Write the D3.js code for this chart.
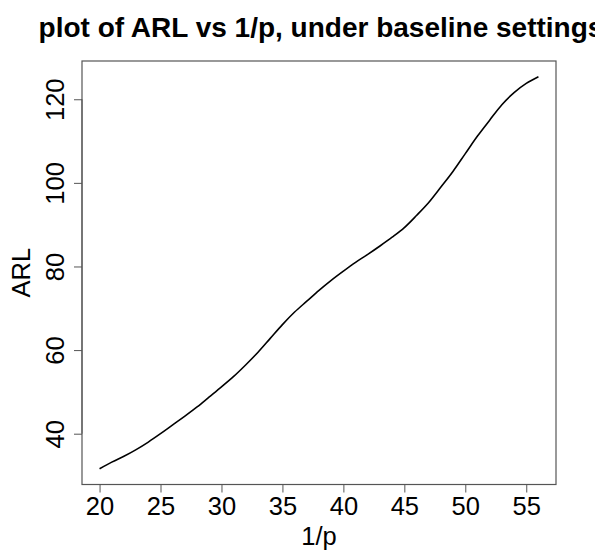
<!DOCTYPE html>
<html>
<head>
<meta charset="utf-8">
<script src="https://cdn.jsdelivr.net/npm/d3@7"></script>
<style>
  html, body { margin: 0; padding: 0; background: #fff; }
  svg { display: block; font-family: "Liberation Sans", Arial, sans-serif; }
</style>
</head>
<body>
<svg id="chart" width="595" height="551"></svg>
<script>
// ARL as a function of 1/p under the baseline settings
const invP = [20, 21, 22, 23, 24, 25, 26, 27, 28, 29, 30, 31, 32, 33, 34, 35, 36, 37, 38,
              39, 40, 41, 42, 43, 44, 45, 46, 47, 48, 49, 50, 51, 52, 53, 54, 55, 56];
const arl  = [31.6, 33.2, 34.6, 36.2, 38.0, 40.0, 42.1, 44.2, 46.4, 48.8, 51.2, 53.7, 56.5,
              59.5, 62.8, 66.1, 69.1, 71.7, 74.3, 76.7, 78.9, 81.0, 82.9, 84.9, 87.0, 89.3,
              92.2, 95.3, 99.0, 102.8, 107.0, 111.2, 115.0, 118.7, 121.6, 123.8, 125.4];
const xTicks = [20, 25, 30, 35, 40, 45, 50, 55];
const yTicks = [40, 60, 80, 100, 120];

const svg = d3.select("#chart");
const box = { left: 82, right: 556, top: 61, bottom: 484.5 };
const labelSize = 25.5;

// R-style 4% padding around the data range
function padded(vals) {
  const [lo, hi] = d3.extent(vals);
  const d = (hi - lo) * 0.04;
  return [lo - d, hi + d];
}

const x = d3.scaleLinear().domain(padded(invP)).range([box.left, box.right]);
const y = d3.scaleLinear().domain(padded(arl)).range([box.bottom, box.top]);

// plot frame
svg.append("rect")
  .attr("x", box.left).attr("y", box.top)
  .attr("width", box.right - box.left).attr("height", box.bottom - box.top)
  .attr("fill", "none").attr("stroke", "#555").attr("stroke-width", 1.2);

// curve
const line = d3.line().x((d, i) => x(invP[i])).y(d => y(d)).curve(d3.curveMonotoneX);
svg.append("path")
  .datum(arl)
  .attr("d", line)
  .attr("fill", "none")
  .attr("stroke", "#000")
  .attr("stroke-width", 1.6);

// x axis
const xAxis = svg.append("g")
  .attr("transform", `translate(0,${box.bottom})`)
  .call(d3.axisBottom(x).tickValues(xTicks).tickSize(8).tickPadding(4).tickFormat(d3.format("d")));
xAxis.select(".domain")
  .attr("d", `M${x(xTicks[0])},0H${x(xTicks[xTicks.length - 1])}`)
  .attr("stroke", "#555");
xAxis.selectAll(".tick line").attr("stroke", "#555");
xAxis.selectAll(".tick text")
  .attr("font-size", labelSize).attr("fill", "#000")
  .attr("font-family", "Liberation Sans, Arial, sans-serif");

// y axis with labels running upward
const yAxis = svg.append("g")
  .attr("transform", `translate(${box.left},0)`)
  .call(d3.axisLeft(y).tickValues(yTicks).tickSize(8).tickFormat(d3.format("d")));
yAxis.select(".domain")
  .attr("d", `M0,${y(yTicks[0])}V${y(yTicks[yTicks.length - 1])}`)
  .attr("stroke", "#555");
yAxis.selectAll(".tick line").attr("stroke", "#555");
yAxis.selectAll(".tick text")
  .attr("x", null).attr("dy", null)
  .attr("transform", "translate(-18.5,0) rotate(-90)")
  .attr("text-anchor", "middle")
  .attr("font-size", labelSize).attr("fill", "#000")
  .attr("font-family", "Liberation Sans, Arial, sans-serif");

// titles
const cx = (box.left + box.right) / 2;
svg.append("text")
  .attr("x", cx + 2).attr("y", 36.5)
  .attr("text-anchor", "middle")
  .attr("font-size", 28).attr("font-weight", "bold")
  .text("plot of ARL vs 1/p, under baseline settings");

svg.append("text")
  .attr("x", cx).attr("y", 545)
  .attr("text-anchor", "middle")
  .attr("font-size", labelSize)
  .text("1/p");

svg.append("text")
  .attr("transform", `translate(30,${(box.top + box.bottom) / 2}) rotate(-90)`)
  .attr("text-anchor", "middle")
  .attr("font-size", labelSize)
  .text("ARL");
</script>
</body>
</html>
